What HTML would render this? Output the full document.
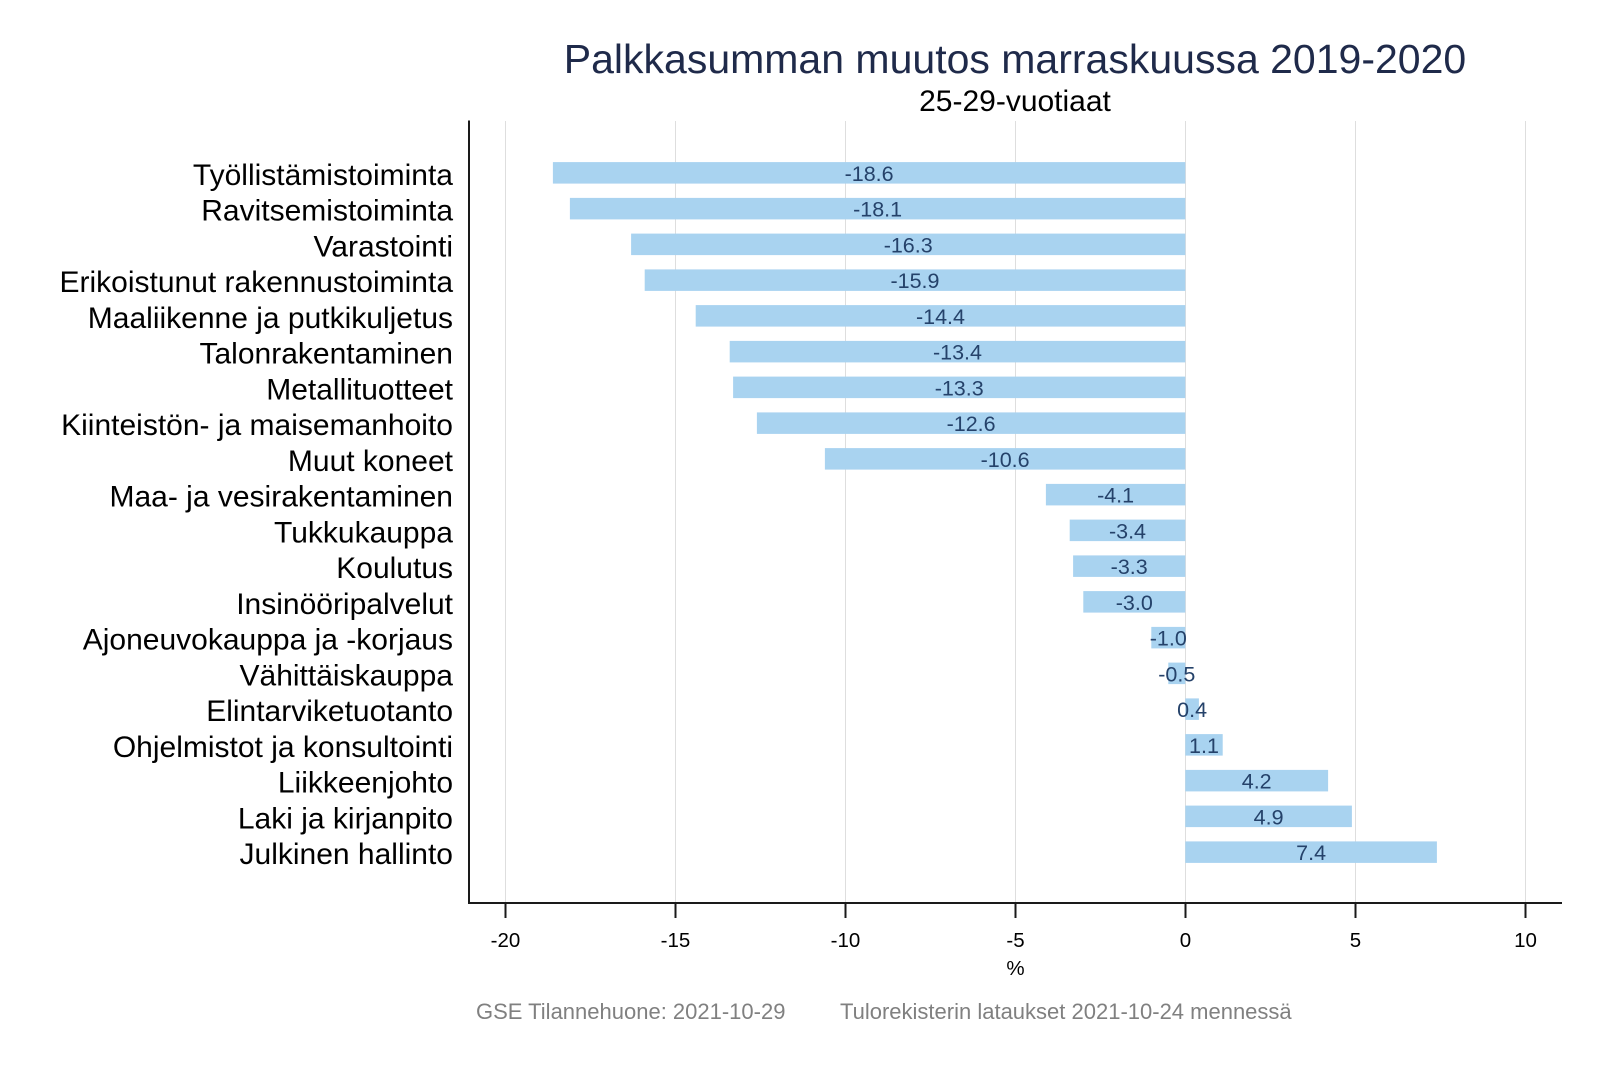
<!DOCTYPE html>
<html>
<head>
<meta charset="utf-8">
<style>
html,body{margin:0;padding:0;background:#fff;}
svg{display:block;}
text{font-family:"Liberation Sans",Arial,sans-serif;}
</style>
</head>
<body>
<svg width="1600" height="1067" viewBox="0 0 1600 1067" xmlns="http://www.w3.org/2000/svg">
<rect width="1600" height="1067" fill="#fff"/>
<!-- title -->
<text x="1015" y="73" font-size="41" fill="#1f2a4a" text-anchor="middle">Palkkasumman muutos marraskuussa 2019-2020</text>
<text x="1015" y="111" font-size="30" fill="#000" text-anchor="middle">25-29-vuotiaat</text>
<!-- gridlines -->
<g stroke="#dedede" stroke-width="1">
<line x1="505.5" y1="121" x2="505.5" y2="903"/>
<line x1="675.5" y1="121" x2="675.5" y2="903"/>
<line x1="845.5" y1="121" x2="845.5" y2="903"/>
<line x1="1015.5" y1="121" x2="1015.5" y2="903"/>
<line x1="1185.5" y1="121" x2="1185.5" y2="903"/>
<line x1="1355.5" y1="121" x2="1355.5" y2="903"/>
<line x1="1525.5" y1="121" x2="1525.5" y2="903"/>
</g>
<!-- bars -->
<g fill="#a9d3f0">
<rect x="552.9" y="162.1" width="632.4" height="21.5"/>
<rect x="569.9" y="197.9" width="615.4" height="21.5"/>
<rect x="631.1" y="233.6" width="554.2" height="21.5"/>
<rect x="644.7" y="269.4" width="540.6" height="21.5"/>
<rect x="695.7" y="305.1" width="489.6" height="21.5"/>
<rect x="729.7" y="340.9" width="455.6" height="21.5"/>
<rect x="733.1" y="376.6" width="452.2" height="21.5"/>
<rect x="756.9" y="412.4" width="428.4" height="21.5"/>
<rect x="824.9" y="448.1" width="360.4" height="21.5"/>
<rect x="1045.9" y="483.9" width="139.4" height="21.5"/>
<rect x="1069.7" y="519.6" width="115.6" height="21.5"/>
<rect x="1073.1" y="555.4" width="112.2" height="21.5"/>
<rect x="1083.3" y="591.1" width="102" height="21.5"/>
<rect x="1151.3" y="626.9" width="34" height="21.5"/>
<rect x="1168.3" y="662.6" width="17" height="21.5"/>
<rect x="1185.3" y="698.4" width="13.6" height="21.5"/>
<rect x="1185.3" y="734.1" width="37.4" height="21.5"/>
<rect x="1185.3" y="769.9" width="142.8" height="21.5"/>
<rect x="1185.3" y="805.6" width="166.6" height="21.5"/>
<rect x="1185.3" y="841.4" width="251.6" height="21.5"/>
</g>
<!-- bar labels -->
<g font-size="21.5" fill="#25426a" text-anchor="middle">
<text x="869.1" y="180.9">-18.6</text>
<text x="877.6" y="216.6">-18.1</text>
<text x="908.2" y="252.4">-16.3</text>
<text x="915" y="288.1">-15.9</text>
<text x="940.5" y="323.9">-14.4</text>
<text x="957.5" y="359.6">-13.4</text>
<text x="959.2" y="395.4">-13.3</text>
<text x="971.1" y="431.1">-12.6</text>
<text x="1005.1" y="466.9">-10.6</text>
<text x="1115.6" y="502.6">-4.1</text>
<text x="1127.5" y="538.4">-3.4</text>
<text x="1129.2" y="574.1">-3.3</text>
<text x="1134.3" y="609.9">-3.0</text>
<text x="1168.3" y="645.6">-1.0</text>
<text x="1176.8" y="681.4">-0.5</text>
<text x="1192.1" y="717.1">0.4</text>
<text x="1204" y="752.9">1.1</text>
<text x="1256.7" y="788.6">4.2</text>
<text x="1268.6" y="824.4">4.9</text>
<text x="1311.1" y="860.1">7.4</text>
</g>
<!-- category labels -->
<g font-size="30" fill="#000" text-anchor="end">
<text x="453" y="185">Työllistämistoiminta</text>
<text x="453" y="220.7">Ravitsemistoiminta</text>
<text x="453" y="256.5">Varastointi</text>
<text x="453" y="292.2">Erikoistunut rakennustoiminta</text>
<text x="453" y="328">Maaliikenne ja putkikuljetus</text>
<text x="453" y="363.7">Talonrakentaminen</text>
<text x="453" y="399.5">Metallituotteet</text>
<text x="453" y="435.2">Kiinteistön- ja maisemanhoito</text>
<text x="453" y="471">Muut koneet</text>
<text x="453" y="506.7">Maa- ja vesirakentaminen</text>
<text x="453" y="542.5">Tukkukauppa</text>
<text x="453" y="578.2">Koulutus</text>
<text x="453" y="614">Insinööripalvelut</text>
<text x="453" y="649.7">Ajoneuvokauppa ja -korjaus</text>
<text x="453" y="685.5">Vähittäiskauppa</text>
<text x="453" y="721.2">Elintarviketuotanto</text>
<text x="453" y="757">Ohjelmistot ja konsultointi</text>
<text x="453" y="792.7">Liikkeenjohto</text>
<text x="453" y="828.5">Laki ja kirjanpito</text>
<text x="453" y="864.2">Julkinen hallinto</text>
</g>
<!-- axes -->
<g stroke="#1a1a1a" stroke-width="2">
<line x1="469" y1="120.5" x2="469" y2="904"/>
<line x1="468" y1="903" x2="1562" y2="903"/>
<line x1="505.5" y1="903" x2="505.5" y2="918"/>
<line x1="675.5" y1="903" x2="675.5" y2="918"/>
<line x1="845.5" y1="903" x2="845.5" y2="918"/>
<line x1="1015.5" y1="903" x2="1015.5" y2="918"/>
<line x1="1185.5" y1="903" x2="1185.5" y2="918"/>
<line x1="1355.5" y1="903" x2="1355.5" y2="918"/>
<line x1="1525.5" y1="903" x2="1525.5" y2="918"/>
</g>
<g font-size="20.5" fill="#000" text-anchor="middle">
<text x="505.5" y="947">-20</text>
<text x="675.5" y="947">-15</text>
<text x="845.5" y="947">-10</text>
<text x="1015.5" y="947">-5</text>
<text x="1185.5" y="947">0</text>
<text x="1355.5" y="947">5</text>
<text x="1525.5" y="947">10</text>
<text x="1015.5" y="975">%</text>
</g>
<!-- footer -->
<g font-size="22" fill="#808080">
<text x="476" y="1019">GSE Tilannehuone: 2021-10-29</text>
<text x="840" y="1019">Tulorekisterin lataukset 2021-10-24 mennessä</text>
</g>
</svg>
</body>
</html>
